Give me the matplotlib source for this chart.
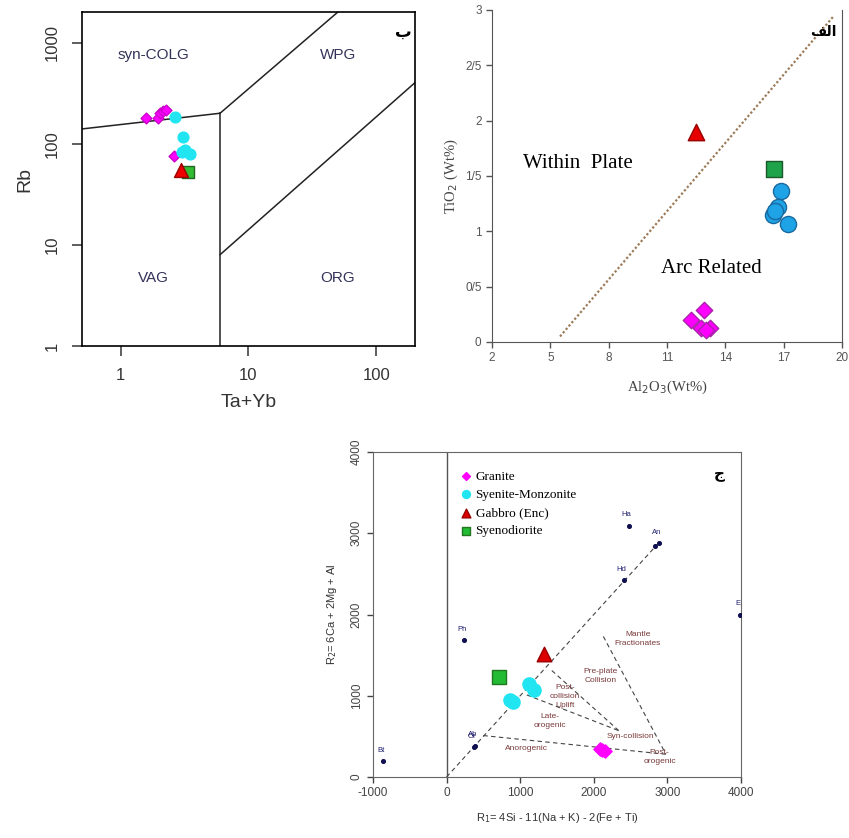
import matplotlib
matplotlib.use("Agg")
from matplotlib import pyplot as plt

plt.rcParams['font.family'] = ['Liberation Sans', 'DejaVu Sans']
plt.rcParams['axes.unicode_minus'] = False

# ---- panel b : Rb vs Ta+Yb (Pearce) ----
b_granite_x = [1.57, 1.98, 2.02, 2.13, 2.25, 2.64]
b_granite_y = [178, 180, 200, 209, 217, 76]
b_syenite_x = [2.69, 3.1, 3.05, 3.2, 3.5]
b_syenite_y = [185, 117, 83, 87, 80]
b_gabbro_x = [2.95]
b_gabbro_y = [55]
b_diorite_x = [3.4]
b_diorite_y = [53]
b_bounds = [([0.5, 6], [140, 200]), ([6, 6], [1, 200]),
            ([6, 50], [200, 2000]), ([6, 200], [8, 400])]
b_fields = [("syn-COLG", 1.8, 760), ("WPG", 50, 760), ("VAG", 1.8, 4.7), ("ORG", 50, 4.7)]

# ---- panel alef : TiO2 vs Al2O3 ----
a_granite_x = [12.92, 12.22, 12.75, 13.2, 13.0]
a_granite_y = [0.29, 0.20, 0.13, 0.13, 0.11]
a_syenite_x = [16.87, 16.7, 16.43, 16.56, 17.25]
a_syenite_y = [1.36, 1.22, 1.15, 1.18, 1.07]
a_gabbro_x = [12.48]
a_gabbro_y = [1.90]
a_diorite_x = [16.48]
a_diorite_y = [1.56]
a_line_x = [5.5, 19.6]
a_line_y = [0.05, 2.95]
a_xticks = [2, 5, 8, 11, 14, 17, 20]
a_yticks = [0, 0.5, 1, 1.5, 2, 2.5, 3]
a_yticklabels = ["0", "0/5", "1", "1/5", "2", "2/5", "3"]

# ---- panel jim : R1-R2 ----
c_granite_x = [2080, 2112, 2157]
c_granite_y = [349, 336, 316]
c_syenite_x = [866, 902, 1115, 1183]
c_syenite_y = [952, 923, 1149, 1067]
c_gabbro_x = [1319]
c_gabbro_y = [1518]
c_diorite_x = [717]
c_diorite_y = [1231]
c_minerals = ["Ha", "An", "", "Hd", "E", "Ph", "Bt", "Ab", "Or"]
c_min_x = [2474, 2881, 2836, 2406, 3982, 236, -864, 385, 370]
c_min_y = [3093, 2880, 2843, 2420, 1998, 1682, 197, 385, 365]
c_bounds = [([0, 2880], [0, 2880]), ([500, 2980], [510, 280]),
            ([1090, 2340], [1010, 570]), ([1430, 2340], [1310, 570]),
            ([2130, 2980], [1730, 280])]
c_fields = [("Mantle\nFractionates", 2597, 1694), ("Pre-plate\nCollision", 2089, 1239),
            ("Post-\ncollision\nUplift", 1613, 993), ("Late-\norogenic", 1400, 689),
            ("Syn-collision", 2496, 500), ("Anorogenic", 1092, 349),
            ("Post-\norogenic", 2895, 246)]

fig = plt.figure(figsize=(8.49, 8.38), dpi=100)

# ================= panel b =================
ax1 = fig.add_axes([0.0966, 0.587, 0.392, 0.3986])
ax1.set_xscale('log')
ax1.set_yscale('log')
ax1.set_xlim(0.5, 200)
ax1.set_ylim(1, 2000)
for bx, by in b_bounds:
    ax1.plot(bx, by, color='#222222', lw=1.1)
for name, x, y in b_fields:
    ax1.text(x, y, name, color='#33335a', fontsize=11, ha='center', va='center')
ax1.scatter(b_granite_x, b_granite_y, marker='D', s=30, c='#ff00ff', edgecolors='#cc00cc', zorder=3)
ax1.scatter(b_syenite_x, b_syenite_y, marker='o', s=60, c='#22e5f2', edgecolors='#22e5f2', zorder=3)
ax1.scatter(b_gabbro_x, b_gabbro_y, marker='^', s=100, c='#ee0000', edgecolors='#990000', zorder=4)
ax1.scatter(b_diorite_x, b_diorite_y, marker='s', s=75, c='#33bb33', edgecolors='#226622', zorder=3)
ax1.set_xticks([1, 10, 100])
ax1.set_xticklabels(["1", "10", "100"])
ax1.set_yticks([1, 10, 100, 1000])
ax1.set_yticklabels(["1", "10", "100", "1000"], rotation=90, va='center')
ax1.minorticks_off()
ax1.tick_params(labelsize=12, length=7, width=1.1, colors='#333333', pad=9)
ax1.set_xlabel("Ta+Yb", fontsize=14, color='#333333', labelpad=8)
ax1.set_ylabel("Rb", fontsize=14, color='#333333', labelpad=8)
for sp in ax1.spines.values():
    sp.set_linewidth(1.2)
ax1.text(0.965, 0.94, "ب", transform=ax1.transAxes, fontsize=12, fontweight='bold',
         ha='center', va='center', family=['DejaVu Sans'])

# ================= panel alef =================
ax2 = fig.add_axes([0.5795, 0.5919, 0.4122, 0.3962])
ax2.set_xlim(2, 20)
ax2.set_ylim(0, 3)
ax2.plot(a_line_x, a_line_y, color='#9c7a58', lw=1.6, ls=(0, (1, 1)))
ax2.scatter(a_granite_x, a_granite_y, marker='D', s=70, c='#ff00ff', edgecolors='#aa22aa', zorder=3)
ax2.scatter(a_syenite_x, a_syenite_y, marker='o', s=135, c='#1ea3e6', edgecolors='#1a6aa0', zorder=3)
ax2.scatter(a_gabbro_x, a_gabbro_y, marker='^', s=140, c='#e60000', edgecolors='#990000', zorder=3)
ax2.scatter(a_diorite_x, a_diorite_y, marker='s', s=130, c='#1ea34a', edgecolors='#1a5a2a', zorder=3)
ax2.text(6.4, 1.61, "Within  Plate", family='Liberation Serif', fontsize=15, ha='center', va='center')
ax2.text(13.3, 0.66, "Arc Related", family='Liberation Serif', fontsize=15, ha='center', va='center')
ax2.text(19.05, 2.80, "\uFED2\uFEDF\uFE8D", fontsize=10, fontweight='bold', ha='center', va='center',
         family=['DejaVu Sans'])
ax2.set_xticks(a_xticks)
ax2.set_yticks(a_yticks)
ax2.set_yticklabels(a_yticklabels)
ax2.tick_params(labelsize=8.5, length=4, colors='#555555', width=1)
ax2.set_xlabel("Al$_2$O$_3$(Wt%)", family='Liberation Serif', fontsize=10.5, color='#444444', labelpad=10)
ax2.set_ylabel("TiO$_2$ (Wt%)", family='Liberation Serif', fontsize=10.5, color='#444444', labelpad=4)
ax2.spines['top'].set_visible(False)
for s in ['left', 'bottom', 'right']:
    ax2.spines[s].set_color('#555555')

# ================= panel jim =================
ax3 = fig.add_axes([0.4393, 0.0728, 0.4335, 0.3878])
ax3.set_xlim(-1000, 4000)
ax3.set_ylim(0, 4000)
ax3.axvline(0, color='#555555', lw=1)
for bx, by in c_bounds:
    ax3.plot(bx, by, color='#444444', lw=0.8, ls=(0, (4, 3)))
for name, x, y in c_fields:
    ax3.text(x, y, name, color='#7a3a3a', fontsize=6, ha='center', va='center', linespacing=1.4)
ax3.scatter(c_min_x, c_min_y, s=7, c='#101050', zorder=3)
for name, x, y in zip(c_minerals, c_min_x, c_min_y):
    ax3.text(x - 30, y + 90, name, color='#202070', fontsize=5.5, ha='center', va='bottom')
ax3.scatter(c_granite_x, c_granite_y, marker='D', s=45, c='#ff00ff', edgecolors='#ff00ff', zorder=4,
            label="Granite")
ax3.scatter(c_syenite_x, c_syenite_y, marker='o', s=90, c='#22e5f2', edgecolors='#22e5f2', zorder=4,
            label="Syenite-Monzonite")
ax3.scatter(c_gabbro_x, c_gabbro_y, marker='^', s=110, c='#dd0000', edgecolors='#990000', zorder=4,
            label="Gabbro (Enc)")
ax3.scatter(c_diorite_x, c_diorite_y, marker='s', s=90, c='#22bb33', edgecolors='#227722', zorder=4,
            label="Syenodiorite")
leg = ax3.legend(loc='upper left', bbox_to_anchor=(0.2, 0.98), frameon=False, handletextpad=0.1,
                 prop={'family': 'Liberation Serif', 'size': 9.5}, markerscale=0.6,
                 labelspacing=0.45, handlelength=1.2)
ax3.text(3700, 3733, "ج", fontsize=11, fontweight='bold', ha='center', va='center', family=['DejaVu Sans'])
ax3.set_xticks([-1000, 0, 1000, 2000, 3000, 4000])
ax3.set_yticks([0, 1000, 2000, 3000, 4000])
ax3.set_yticklabels(["0", "1000", "2000", "3000", "4000"], rotation=90, va='center')
ax3.tick_params(labelsize=8.5, length=4, colors='#444444', width=1)
ax3.set_xlabel("R$_1$= 4Si - 11(Na + K) - 2(Fe + Ti)", fontsize=8, color='#333333', labelpad=8)
ax3.set_ylabel("R$_2$= 6Ca + 2Mg + Al", fontsize=8, color='#333333', labelpad=8)
for sp in ax3.spines.values():
    sp.set_color('#666666')

fig.savefig("out.png", dpi=100)
